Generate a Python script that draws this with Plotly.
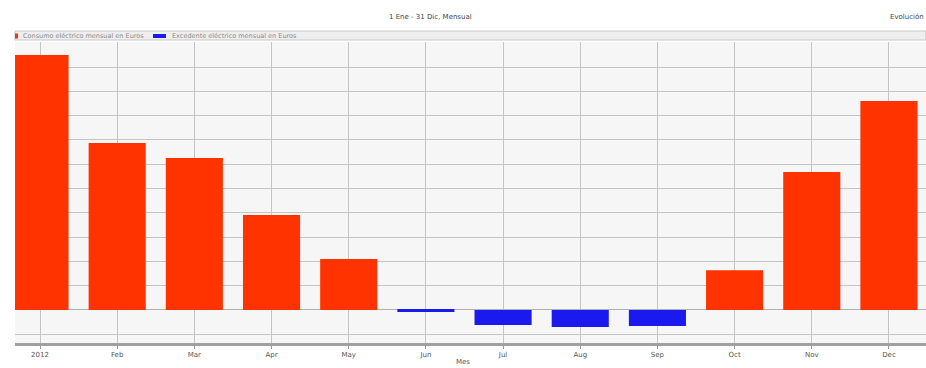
import plotly.graph_objects as go

months = ["2012", "Feb", "Mar", "Apr", "May", "Jun", "Jul", "Aug", "Sep", "Oct", "Nov", "Dec"]
consumo = [1050, 687, 626, 391, 210, None, None, None, None, 163, 568, 860]
excedente = [None, None, None, None, None, -8, -62, -70, -66, None, None, None]
legend_names = ["Consumo eléctrico mensual en Euros", "Excedente eléctrico mensual en Euros"]

RED = "#ff3300"
BLUE = "#1a1aee"

x = list(range(len(months)))

fig = go.Figure()
fig.add_trace(go.Bar(x=x, y=consumo, name=legend_names[0],
                     marker=dict(color=RED, line=dict(width=0)), width=0.74))
fig.add_trace(go.Bar(x=x, y=excedente, name=legend_names[1],
                     marker=dict(color=BLUE, line=dict(width=0)), width=0.74))

W, H = 926, 368
L, R, T, B = 15, 0, 42, 25
PW, PH = W - L - R, H - T - B


def px_x(p):
    return (p - L) / PW


def px_y(p):
    return (H - B - p) / PH


fig.update_layout(
    width=W, height=H,
    margin=dict(l=L, r=R, t=T, b=B, autoexpand=False),
    paper_bgcolor="white",
    plot_bgcolor="#f6f6f6",
    barmode="overlay",
    showlegend=False,
    font=dict(family="DejaVu Sans", size=7, color="#555555"),
    xaxis=dict(range=[-0.324, 11.48], tickmode="array", tickvals=x, ticktext=months,
               showgrid=True, gridcolor="#c4c4c4", gridwidth=1,
               showline=True, linecolor="#a0a0a0", linewidth=3,
               ticks="outside", ticklen=3, tickcolor="#999999",
               tickfont=dict(size=7, color="#555555"),
               automargin=False, zeroline=False, fixedrange=True),
    yaxis=dict(range=[-136, 1103], dtick=100, tick0=0, showticklabels=False,
               showgrid=True, gridcolor="#c4c4c4", gridwidth=1,
               zeroline=True, zerolinecolor="#b0b0b0", zerolinewidth=1,
               showline=False, automargin=False, fixedrange=True),
    shapes=[
        dict(type="rect", xref="paper", yref="paper", x0=0, x1=1, y0=px_y(40), y1=px_y(31),
             fillcolor="#eeeeee", line=dict(color="#c8c8c8", width=1), layer="below"),
        dict(type="rect", xref="paper", yref="paper", x0=px_x(15), x1=px_x(18),
             y0=px_y(38.5), y1=px_y(33.5), fillcolor=RED, line=dict(width=0)),
        dict(type="rect", xref="paper", yref="paper", x0=px_x(153), x1=px_x(166),
             y0=px_y(38), y1=px_y(34), fillcolor=BLUE, line=dict(width=0)),
    ],
    annotations=[
        dict(text="1 Ene - 31 Dic, Mensual", xref="paper", yref="paper",
             x=px_x(430), y=px_y(17), xanchor="center", yanchor="middle",
             showarrow=False, font=dict(size=7, color="#444444")),
        dict(text="Evolución", xref="paper", yref="paper",
             x=1, y=px_y(17), xanchor="right", yanchor="middle",
             showarrow=False, font=dict(size=7, color="#444444")),
        dict(text=legend_names[0], xref="paper", yref="paper",
             x=px_x(21), y=px_y(36), xanchor="left", yanchor="middle",
             showarrow=False, font=dict(size=6.5, color="#8a8a8a")),
        dict(text=legend_names[1], xref="paper", yref="paper",
             x=px_x(170), y=px_y(36), xanchor="left", yanchor="middle",
             showarrow=False, font=dict(size=6.5, color="#8a8a8a")),
        dict(text="Mes", xref="paper", yref="paper",
             x=px_x(463), y=px_y(362), xanchor="center", yanchor="middle",
             showarrow=False, font=dict(size=7, color="#555555")),
    ],
)

fig.write_html("out.html", config={"displayModeBar": False},
               post_script="document.body.style.margin='0';document.body.style.overflow='hidden';")
